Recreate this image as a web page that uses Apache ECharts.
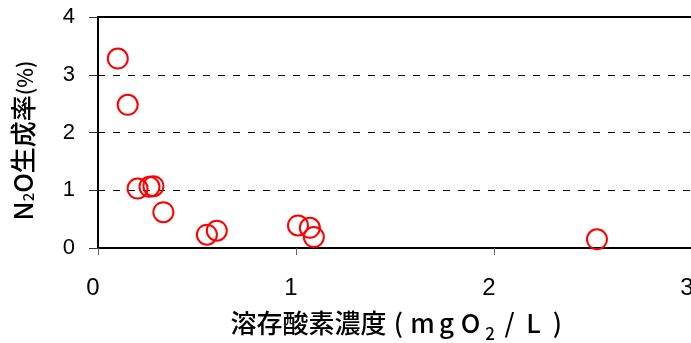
<!DOCTYPE html>
<html>
<head>
<meta charset="utf-8">
<script src="https://cdn.jsdelivr.net/npm/echarts@6/dist/echarts.min.js"></script>
<style>html,body{margin:0;padding:0;background:#fff}#c{width:691px;height:343px}</style>
</head>
<body>
<div id="c"></div>
<script>
// Dissolved oxygen (mgO2/L)
var doValues = [0.10, 0.15, 0.20, 0.26, 0.28, 0.33, 0.55, 0.60, 1.01, 1.07, 1.09, 2.52];
// N2O production rate (%)
var n2oValues = [3.28, 2.48, 1.03, 1.06, 1.07, 0.62, 0.23, 0.30, 0.39, 0.35, 0.19, 0.15];
var xTicks = [0, 1, 2, 3];
var yTicks = [0, 1, 2, 3, 4];

var points = doValues.map(function (x, i) { return [x, n2oValues[i]]; });

var cjk = '"Noto Sans CJK JP", sans-serif';
var chart = echarts.init(document.getElementById('c'));
chart.setOption({
  animation: false,
  backgroundColor: '#fff',
  grid: { left: 98, top: 17, width: 594, height: 231, containLabel: false, outerBoundsMode: 'none',
    show: true, borderColor: '#000', borderWidth: 2, backgroundColor: 'rgba(0,0,0,0)' },
  xAxis: [{
    type: 'value', min: xTicks[0], max: xTicks[xTicks.length - 1], interval: 1,
    axisLine: { show: true, onZero: false, lineStyle: { color: '#000', width: 2 } },
    axisTick: { show: true, inside: false, length: 7, lineStyle: { color: '#666', width: 1 } },
    axisLabel: { show: true, margin: 28, fontSize: 24, color: '#000',
      fontFamily: '"Liberation Sans", Arial, sans-serif', padding: [0, 10, 0, 0] },
    splitLine: { show: false },
    name: '{c|溶存酸素濃度}{p|(}{p|m}{p|g}{p|O}{s|2}{p|/}{p|L}{p|)}',
    nameLocation: 'middle', nameGap: 58,
    nameTextStyle: {
      color: '#000', padding: [0, 0, 0, 10],
      rich: {
        c: { fontSize: 26, fontWeight: 500, fontFamily: cjk, color: '#000', verticalAlign: 'bottom', lineHeight: 30 },
        p: { fontSize: 26, fontWeight: 500, width: 24, align: 'center', fontFamily: cjk, color: '#000', verticalAlign: 'bottom', lineHeight: 30 },
        s: { fontSize: 17, fontWeight: 500, width: 15, align: 'center', fontFamily: cjk, color: '#000', verticalAlign: 'bottom', padding: [0, 0, -6, 0] }
      }
    }
  }, {
    type: 'value', position: 'top', min: 0, max: 3,
    axisLine: { show: true, lineStyle: { color: '#000', width: 2 } },
    axisTick: { show: false }, axisLabel: { show: false }, splitLine: { show: false }
  }],
  yAxis: {
    type: 'value', min: yTicks[0], max: yTicks[yTicks.length - 1], interval: 1,
    axisLine: { show: true, onZero: false, lineStyle: { color: '#000', width: 2 } },
    axisTick: { show: true, inside: false, length: 9, lineStyle: { color: '#333', width: 1 } },
    axisLabel: { show: true, margin: 23, fontSize: 22, color: '#000',
      fontFamily: '"Liberation Sans", Arial, sans-serif' },
    splitLine: { show: true, lineStyle: { color: '#000', width: 1, type: [7, 8] } },
    name: '{a|N}{s|2}{a|O生成率}{b|(%)}',
    nameLocation: 'middle', nameRotate: 90, nameGap: 62,
    nameTextStyle: {
      color: '#000', padding: [0, 16, 0, 0],
      rich: {
        a: { fontSize: 26, fontWeight: 500, fontFamily: cjk, color: '#000', verticalAlign: 'bottom', lineHeight: 28 },
        s: { fontSize: 15, fontWeight: 500, fontFamily: cjk, color: '#000', verticalAlign: 'bottom', lineHeight: 16 },
        b: { fontSize: 21, fontWeight: 500, fontFamily: cjk, color: '#000', verticalAlign: 'bottom', lineHeight: 26 }
      }
    }
  },
  series: [{
    type: 'scatter',
    data: points,
    symbol: 'circle',
    symbolSize: 20,
    itemStyle: { color: 'rgba(0,0,0,0)', borderColor: '#ff0000', borderWidth: 2, opacity: 1 },
    emphasis: { disabled: true },
    clip: false
  }]
});
</script>
</body>
</html>
